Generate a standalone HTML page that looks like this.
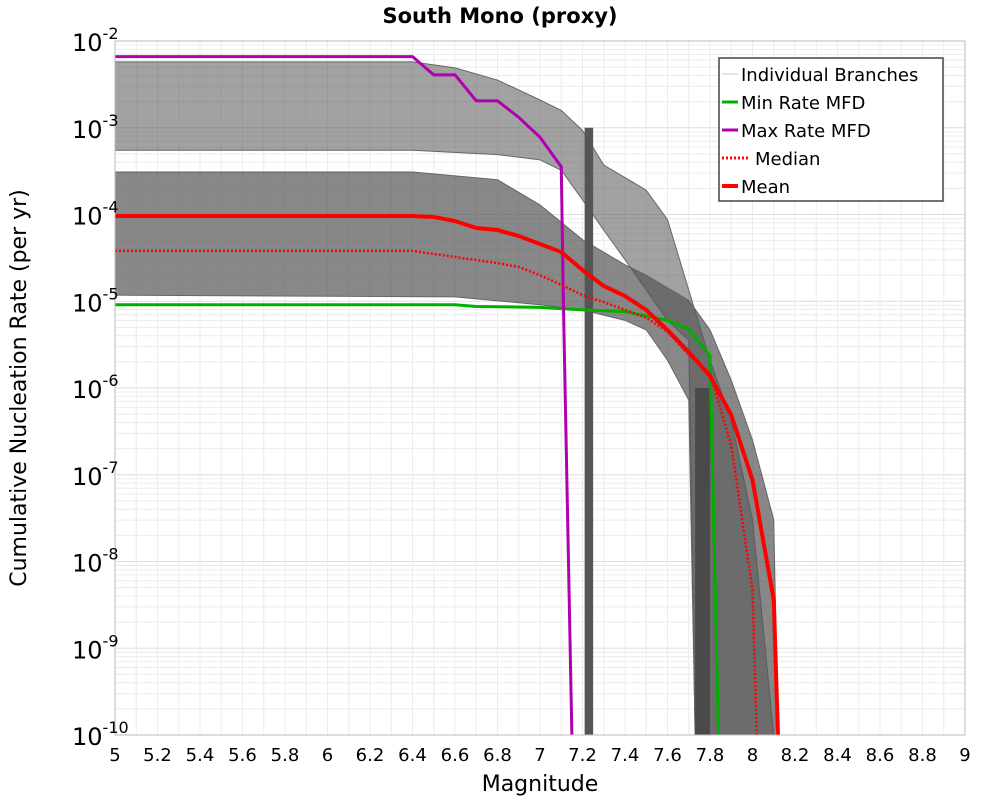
<!DOCTYPE html>
<html><head><meta charset="utf-8"><style>
body{margin:0;background:#fff;font-family:"Liberation Sans","DejaVu Sans",sans-serif}
svg text{font-family:"DejaVu Sans","Liberation Sans",sans-serif}
</style></head><body>
<svg id="c" width="1000" height="800" xmlns="http://www.w3.org/2000/svg">
<text x="500" y="23" text-anchor="middle" font-size="21" font-weight="bold">South Mono (proxy)</text>
<g id="grid"></g>
<g id="bands"></g>
<g id="series"></g>
<rect x="115" y="41" width="850" height="694" fill="none" stroke="#bbb"/>
<g id="axes"></g>
<text x="540" y="791" text-anchor="middle" font-size="22">Magnitude</text>
<text transform="translate(26,388) rotate(-90)" text-anchor="middle" font-size="22">Cumulative Nucleation Rate (per yr)</text>
<g>
<rect x="719" y="58" width="224" height="143" fill="#fff" stroke="#444" stroke-width="1.5"/>
<g><line x1="722" y1="74" x2="738" y2="74" stroke="#ccc" stroke-width="1"/><text x="741" y="81" font-size="18">Individual Branches</text></g>
<g><line x1="722" y1="102" x2="738" y2="102" stroke="#00b000" stroke-width="3"/><text x="741" y="109" font-size="18">Min Rate MFD</text></g>
<g><line x1="722" y1="130" x2="738" y2="130" stroke="#b000b0" stroke-width="3"/><text x="741" y="137" font-size="18">Max Rate MFD</text></g>
<g><line x1="722" y1="158" x2="750" y2="158" stroke="#f00" stroke-width="3" stroke-dasharray="2,2"/><text x="755" y="165" font-size="18">Median</text></g>
<g><line x1="722" y1="186" x2="738" y2="186" stroke="#f00" stroke-width="4"/><text x="741" y="193" font-size="18">Mean</text></g>
</g>
</svg>
<script>
const meanM=[5,6.4,6.5,6.6,6.7,6.8,6.9,7.0,7.1,7.2,7.3,7.4,7.5,7.6,7.7,7.8,7.9,8.0,8.1,8.12];
const meanL=[-4.017,-4.017,-4.029,-4.075,-4.156,-4.179,-4.248,-4.34,-4.433,-4.64,-4.824,-4.94,-5.101,-5.332,-5.585,-5.862,-6.311,-7.061,-8.444,-10];
const medM=[5,6.4,6.6,6.8,6.9,7.0,7.1,7.2,7.3,7.4,7.5,7.6,7.7,7.8,7.9,8.0,8.02];
const medL=[-4.42,-4.42,-4.49,-4.56,-4.605,-4.7,-4.81,-4.93,-5.01,-5.1,-5.19,-5.35,-5.62,-5.83,-6.66,-8.33,-10];
const minM=[5,6.6,6.7,7.0,7.2,7.4,7.5,7.6,7.7,7.8,7.84];
const minL=[-5.04,-5.04,-5.06,-5.07,-5.1,-5.12,-5.17,-5.22,-5.32,-5.63,-10];
const maxM=[5,6.4,6.5,6.6,6.7,6.8,6.9,7.0,7.1,7.11,7.15];
const maxL=[-2.18,-2.18,-2.39,-2.39,-2.69,-2.69,-2.88,-3.11,-3.45,-5,-10];
const hiTopM=[5,6.4,6.6,6.8,7.0,7.1,7.2,7.3,7.5,7.6,7.7,7.8,7.9,8.0,8.1];
const hiTopL=[-2.24,-2.24,-2.31,-2.45,-2.68,-2.8,-3.03,-3.43,-3.72,-4.06,-4.87,-5.68,-6.37,-7.52,-10];
const hiBotM=[5,6.4,6.8,7.0,7.1,7.2,7.3,7.4,7.5,7.6,7.7,7.73];
const hiBotL=[-3.26,-3.26,-3.31,-3.37,-3.49,-3.83,-4.18,-4.52,-4.87,-5.22,-5.45,-10];
const loTopM=[5,6.4,6.8,7.0,7.2,7.4,7.5,7.7,7.8,7.9,8.0,8.1,8.12];
const loTopL=[-3.51,-3.51,-3.6,-3.89,-4.29,-4.58,-4.7,-4.99,-5.33,-5.91,-6.6,-7.52,-10];
const loBotM=[5,6.6,7.0,7.2,7.4,7.5,7.6,7.7,7.73];
const loBotL=[-4.93,-4.95,-5.04,-5.1,-5.22,-5.33,-5.68,-6.14,-10];
const xTicks=[5,5.2,5.4,5.6,5.8,6,6.2,6.4,6.6,6.8,7,7.2,7.4,7.6,7.8,8,8.2,8.4,8.6,8.8,9];
const yTicks=[-2,-3,-4,-5,-6,-7,-8,-9,-10];
const NS='http://www.w3.org/2000/svg';
const X=m=>115+(m-5)*212.5, Y=l=>41+(-2-l)*86.75;
function mk(t,a,p){const e=document.createElementNS(NS,t);for(const k in a)e.setAttribute(k,a[k]);p.appendChild(e);return e;}
const grid=document.getElementById('grid');
for(let d=-10;d<-2;d++)for(let k=1;k<10;k++){const y=Y(d+Math.log10(k));
 const g=mk('line',{x1:115,x2:965,y1:y,y2:y,stroke:k==1?'#ddd':'#ececec','stroke-width':1},grid);
 }
for(let i=0;i<=40;i++){const x=X(5+i*0.1);
 const g=mk('line',{x1:x,x2:x,y1:41,y2:735,stroke:'#ececec','stroke-width':1},grid);
 }
const bands=document.getElementById('bands');
function band(tm,tl,bm,bl,op,name){let pts=tm.map((m,i)=>X(m)+','+Y(tl[i]));
 for(let i=bm.length-1;i>=0;i--)pts.push(X(bm[i])+','+Y(bl[i]));
 const p=mk('polygon',{points:pts.join(' '),fill:'#555','fill-opacity':op,stroke:'#666','stroke-width':1},bands);
 }
band(hiTopM,hiTopL,hiBotM,hiBotL,0.55,'high-branch-band');
band(loTopM,loTopL,loBotM,loBotL,0.7,'low-branch-band');
const v=mk('rect',{x:X(7.21),y:Y(-3.0),width:X(7.25)-X(7.21),height:735-Y(-3.0),fill:'#555'},bands);

const v2=mk('rect',{x:X(7.73),y:Y(-6),width:X(7.8)-X(7.73),height:735-Y(-6),fill:'#4a4a4a'},bands);

const ser=document.getElementById('series');
function line(ms,ls,col,w,dash,name){const d=ms.map((m,i)=>(i?'L':'M')+X(m)+' '+Y(ls[i])).join('');
 const p=mk('path',{d:d,fill:'none',stroke:col,'stroke-width':w},ser);if(dash)p.setAttribute('stroke-dasharray',dash);
 }
line(minM,minL,'#00b000',3,null,'min-rate-line');
line(maxM,maxL,'#b000b0',3,null,'max-rate-line');
line(medM,medL,'#f00',2.5,'2,2','median-line');
line(meanM,meanL,'#f00',4,null,'mean-line');
const ax=document.getElementById('axes');
xTicks.forEach(t=>{const tx=mk('text',{x:X(t),y:761,'text-anchor':'middle','font-size':18},ax);tx.textContent=String(t);
 });
yTicks.forEach(t=>{const tx=mk('text',{x:72,y:Y(t)+10,'font-size':24},ax);tx.textContent='10';
 const s=mk('tspan',{dy:-12,'font-size':16},tx);s.textContent=String(t);
 });
</script>
</body></html>
